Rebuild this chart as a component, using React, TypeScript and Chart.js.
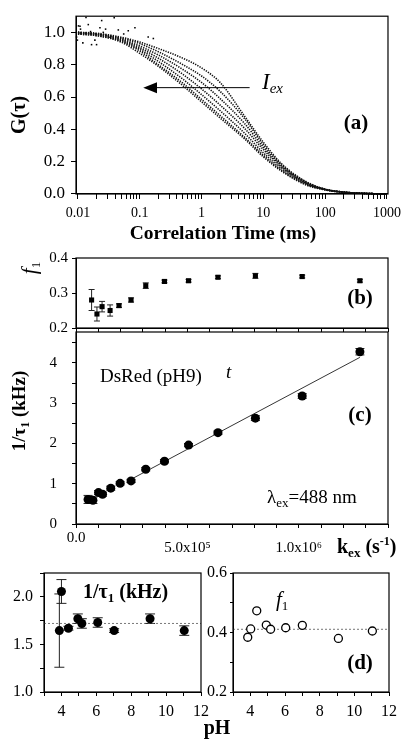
import { useEffect, useRef } from 'react';
import { Chart, registerables } from 'chart.js';

Chart.register(...registerables);

const PAGE_W = 407;
const PAGE_H = 753;
const AXIS_BOX = 40;
const SERIF = '"Liberation Serif", "DejaVu Serif", "Times New Roman", serif';

// ---------------- Panel (a): G(tau) curves ----------------
const tau = [0.01, 0.02, 0.05, 0.1, 0.2, 0.5, 1, 2, 5, 10, 20, 50, 100, 200, 500, 1000];
const gI1 = [0.99, 0.98, 0.94, 0.87, 0.79, 0.67, 0.57, 0.47, 0.34, 0.23, 0.14, 0.055, 0.025, 0.01, 0.003, 0.0];
const gI2 = [0.99, 0.98, 0.945, 0.885, 0.8, 0.685, 0.585, 0.485, 0.35, 0.24, 0.145, 0.058, 0.026, 0.01, 0.003, 0.0];
const gI3 = [0.995, 0.985, 0.95, 0.895, 0.82, 0.71, 0.615, 0.515, 0.375, 0.255, 0.155, 0.062, 0.027, 0.011, 0.003, 0.0];
const gI4 = [0.995, 0.99, 0.955, 0.905, 0.84, 0.74, 0.65, 0.55, 0.405, 0.275, 0.165, 0.066, 0.028, 0.011, 0.003, 0.0];
const gI5 = [1.0, 0.99, 0.96, 0.915, 0.86, 0.77, 0.69, 0.59, 0.435, 0.29, 0.172, 0.07, 0.029, 0.012, 0.003, 0.0];
const gI6 = [1.0, 0.99, 0.965, 0.93, 0.88, 0.8, 0.73, 0.635, 0.465, 0.305, 0.178, 0.072, 0.03, 0.012, 0.003, 0.0];
const gI7 = [1.0, 0.995, 0.97, 0.94, 0.9, 0.84, 0.78, 0.69, 0.48, 0.32, 0.185, 0.075, 0.03, 0.012, 0.003, 0.0];
const gCurves = [gI1, gI2, gI3, gI4, gI5, gI6, gI7];

const noiseTau = [0.0095, 0.0098, 0.0102, 0.0108, 0.0135, 0.0147, 0.0166, 0.0188, 0.02, 0.0227, 0.0242, 0.0257, 0.0386, 0.0652, 0.0836, 0.137, 0.166, 0.012, 0.028, 0.033, 0.045, 0.011, 0.016, 0.055];
const noiseG = [0.971, 0.952, 1.04, 1.038, 1.092, 1.048, 0.924, 0.952, 0.924, 1.029, 1.073, 1.0, 1.09, 1.01, 1.029, 0.971, 0.962, 0.935, 1.02, 0.97, 1.015, 1.02, 1.005, 0.99];

const aDecades = [0.01, 0.1, 1, 10, 100, 1000];
const aDecadeLabels = ['0.01', '0.1', '1', '10', '100', '1000'];
const aMinorMult = [2, 3, 4, 5, 6, 7, 8, 9];
const aYTicks = [0, 0.2, 0.4, 0.6, 0.8, 1.0];
const aYLabels = ['0.0', '0.2', '0.4', '0.6', '0.8', '1.0'];

// ---------------- Panel (b): f1 vs kex ----------------
const kexB = [7.0e4, 9.4e4, 1.17e5, 1.53e5, 1.93e5, 2.47e5, 3.13e5, 3.97e5, 5.05e5, 6.37e5, 8.05e5, 1.015e6, 1.274e6];
const f1B = [0.28, 0.24, 0.261, 0.25, 0.264, 0.28, 0.321, 0.333, 0.335, 0.345, 0.349, 0.347, 0.335];
const f1BErr = [0.03, 0.02, 0.015, 0.016, 0.005, 0.006, 0.008, 0.004, 0.004, 0.004, 0.007, 0.004, 0.004];
const bYTicks = [0.2, 0.3, 0.4];
const bYLabels = ['0.2', '0.3', '0.4'];

// ---------------- Panel (c): 1/tau1 vs kex ----------------
const kexC = [5.4e4, 7.6e4, 1.01e5, 1.19e5, 1.56e5, 1.98e5, 2.47e5, 3.13e5, 3.97e5, 5.05e5, 6.37e5, 8.05e5, 1.015e6, 1.274e6];
const rateC = [0.61, 0.59, 0.78, 0.74, 0.89, 1.01, 1.07, 1.36, 1.56, 1.96, 2.27, 2.63, 3.18, 4.28];
const rateCErr = [0.1, 0.08, 0.05, 0.05, 0.05, 0.04, 0.04, 0.04, 0.04, 0.04, 0.04, 0.06, 0.06, 0.08];
const fitX = [2.4e5, 1.274e6];
const fitY = [1.09, 4.14];
const kexTicks = [0, 1e5, 2e5, 3e5, 4e5, 5e5, 6e5, 7e5, 8e5, 9e5, 1e6, 1.1e6, 1.2e6, 1.3e6, 1.4e6];
const kexLabels = ['0.0', '', '', '', '', '5.0x10⁵', '', '', '', '', '1.0x10⁶', '', '', '', ''];
const cYTicks = [0, 0.5, 1, 1.5, 2, 2.5, 3, 3.5, 4, 4.5];
const cYLabels = ['0', '', '1', '', '2', '', '3', '', '4', ''];

// ---------------- Panel (d): pH dependence ----------------
const pHL = [3.88, 4.0, 4.4, 4.94, 5.17, 6.08, 7.02, 9.08, 11.04];
const rateL = [1.645, 2.056, 1.67, 1.77, 1.72, 1.73, 1.645, 1.77, 1.645];
const rateLErr = [0.385, 0.125, 0.02, 0.05, 0.05, 0.05, 0.02, 0.05, 0.05];
const rateMean = 1.72;
const pHR = [3.85, 4.02, 4.37, 4.92, 5.17, 6.04, 7.0, 9.08, 11.04];
const f1R = [0.384, 0.412, 0.473, 0.425, 0.411, 0.416, 0.424, 0.38, 0.405];
const f1Mean = 0.411;
const pHTicks = [3, 4, 5, 6, 7, 8, 9, 10, 11, 12];
const pHLabels = ['', '4', '', '6', '', '8', '', '10', '', '12'];
const dLYTicks = [1.0, 1.25, 1.5, 1.75, 2.0, 2.25];
const dLYLabels = ['1.0', '', '1.5', '', '2.0', ''];
const dRYTicks = [0.2, 0.3, 0.4, 0.5, 0.6];
const dRYLabels = ['0.2', '', '0.4', '', '0.6'];

// ---------------- helpers ----------------
type Run = { t: string; f: string; dy?: number };

function drawRuns(ctx: CanvasRenderingContext2D, runs: Run[], x: number, y: number, align: 'left' | 'center' = 'left') {
  ctx.save();
  ctx.fillStyle = '#000';
  ctx.textBaseline = 'alphabetic';
  ctx.textAlign = 'left';
  let w = 0;
  for (const r of runs) {
    ctx.font = r.f;
    w += ctx.measureText(r.t).width;
  }
  let cx = align === 'center' ? x - w / 2 : x;
  for (const r of runs) {
    ctx.font = r.f;
    ctx.fillText(r.t, cx, y + (r.dy || 0));
    cx += ctx.measureText(r.t).width;
  }
  ctx.restore();
}

function drawRunsVertical(ctx: CanvasRenderingContext2D, runs: Run[], baselineX: number, centerY: number) {
  ctx.save();
  ctx.translate(baselineX, centerY);
  ctx.rotate(-Math.PI / 2);
  drawRuns(ctx, runs, 0, 0, 'center');
  ctx.restore();
}

const B = (s: number) => `bold ${s}px ${SERIF}`;
const I = (s: number) => `italic ${s}px ${SERIF}`;
const R = (s: number) => `${s}px ${SERIF}`;

function layoutFor(L: number, T: number, Rr: number, Bb: number) {
  return { padding: { left: L - AXIS_BOX, top: T, right: PAGE_W - Rr, bottom: PAGE_H - Bb - AXIS_BOX } };
}

interface AxisSpec {
  type: 'linear' | 'logarithmic';
  min: number;
  max: number;
  ticks: number[];
  labels: (string | string[])[];
  size: number;
  lineHeight?: number;
  tickLength: number;
  padding: number;
}

function makeAxis(pos: 'left' | 'bottom', s: AxisSpec) {
  return {
    type: s.type,
    position: pos,
    min: s.min,
    max: s.max,
    afterBuildTicks: (scale: any) => {
      scale.ticks = s.ticks.map((v) => ({ value: v }));
    },
    afterFit: (scale: any) => {
      if (pos === 'left') scale.width = AXIS_BOX;
      else scale.height = AXIS_BOX;
    },
    ticks: {
      autoSkip: false,
      maxRotation: 0,
      minRotation: 0,
      padding: s.padding,
      color: '#000',
      font: { family: SERIF, size: s.size, lineHeight: s.lineHeight ?? 1.2 },
      callback: (_v: any, i: number) => (s.labels[i] !== undefined ? s.labels[i] : ''),
    },
    grid: {
      display: true,
      drawOnChartArea: false,
      drawTicks: true,
      tickLength: s.tickLength,
      tickColor: '#000',
      color: '#000',
      lineWidth: 1,
      tickWidth: 1,
    },
    border: { display: true, color: '#000', width: 1 },
  };
}

function framePlugin(id: string, draw?: (ctx: CanvasRenderingContext2D, chart: any) => void) {
  return {
    id,
    afterDraw(chart: any) {
      const { ctx, chartArea: a } = chart;
      ctx.save();
      ctx.strokeStyle = '#000';
      ctx.lineWidth = 1.2;
      ctx.strokeRect(a.left, a.top, a.right - a.left, a.bottom - a.top);
      ctx.restore();
      if (draw) draw(ctx, chart);
    },
  };
}

function errorBarPlugin(id: string, xs: number[], ys: number[], es: number[], cap: number) {
  return {
    id,
    beforeDatasetsDraw(chart: any) {
      const { ctx } = chart;
      const xS = chart.scales.x;
      const yS = chart.scales.y;
      ctx.save();
      ctx.strokeStyle = '#222';
      ctx.lineWidth = 1;
      for (let i = 0; i < xs.length; i++) {
        const px = xS.getPixelForValue(xs[i]);
        const p1 = yS.getPixelForValue(ys[i] - es[i]);
        const p2 = yS.getPixelForValue(ys[i] + es[i]);
        ctx.beginPath();
        ctx.moveTo(px, p1);
        ctx.lineTo(px, p2);
        ctx.moveTo(px - cap, p1);
        ctx.lineTo(px + cap, p1);
        ctx.moveTo(px - cap, p2);
        ctx.lineTo(px + cap, p2);
        ctx.stroke();
      }
      ctx.restore();
    },
  };
}

const common = {
  responsive: false,
  maintainAspectRatio: false,
  animation: false as const,
  devicePixelRatio: 1,
  events: [] as any[],
  plugins: { legend: { display: false }, tooltip: { enabled: false } },
};

const pts = (xs: number[], ys: number[]) => xs.map((x, i) => ({ x, y: ys[i] }));

// arrow annotation in panel (a), in data units
const ARROW = { tauFrom: 6.0, tauBase: 0.19, tauTip: 0.114, g: 0.658 };

export default function App() {
  const refA = useRef<HTMLCanvasElement>(null);
  const refB = useRef<HTMLCanvasElement>(null);
  const refC = useRef<HTMLCanvasElement>(null);
  const refD1 = useRef<HTMLCanvasElement>(null);
  const refD2 = useRef<HTMLCanvasElement>(null);

  useEffect(() => {
    const charts: Chart[] = [];

    // ---- (a) ----
    const aTickVals: number[] = [];
    const aTickLabs: string[] = [];
    aDecades.forEach((d, k) => {
      aTickVals.push(d);
      aTickLabs.push(aDecadeLabels[k]);
      if (k < aDecades.length - 1) {
        aMinorMult.forEach((m) => {
          aTickVals.push(d * m);
          aTickLabs.push('');
        });
      }
    });

    const curveSets = gCurves.map((g) => ({
      data: pts(tau, g),
      showLine: true,
      borderColor: '#111',
      borderWidth: 1.6,
      borderDash: [1.3, 1.2],
      pointRadius: 0,
      cubicInterpolationMode: 'monotone',
      clip: false,
    }));

    charts.push(
      new Chart(refA.current!, {
        type: 'scatter',
        data: {
          datasets: [
            {
              data: pts(noiseTau, noiseG),
              pointStyle: 'rect',
              pointRadius: 1.1,
              backgroundColor: '#000',
              borderWidth: 0,
              clip: false,
            } as any,
            ...(curveSets as any[]),
          ],
        },
        options: {
          ...common,
          layout: layoutFor(76, 3, 388, 194),
          scales: {
            x: makeAxis('bottom', { type: 'logarithmic', min: 0.0093, max: 1040, ticks: aTickVals, labels: aTickLabs, size: 14, tickLength: 5, padding: 6 }),
            y: makeAxis('left', { type: 'linear', min: 0, max: 1.1, ticks: aYTicks, labels: aYLabels, size: 17, tickLength: 5, padding: 6 }),
          },
        } as any,
        plugins: [
          framePlugin('frameA', (ctx, chart) => {
            const xS = chart.scales.x;
            const yS = chart.scales.y;
            const yA = yS.getPixelForValue(ARROW.g);
            const x1 = xS.getPixelForValue(ARROW.tauFrom);
            const xb = xS.getPixelForValue(ARROW.tauBase);
            const xt = xS.getPixelForValue(ARROW.tauTip);
            ctx.save();
            ctx.strokeStyle = '#000';
            ctx.fillStyle = '#000';
            ctx.lineWidth = 1;
            ctx.beginPath();
            ctx.moveTo(x1, yA);
            ctx.lineTo(xb, yA);
            ctx.stroke();
            ctx.beginPath();
            ctx.moveTo(xt, yA);
            ctx.lineTo(xb, yA - 5.5);
            ctx.lineTo(xb, yA + 5.5);
            ctx.closePath();
            ctx.fill();
            ctx.restore();
            drawRuns(ctx, [{ t: 'I', f: I(23) }, { t: 'ex', f: I(15), dy: 4 }], 262, 89);
            drawRuns(ctx, [{ t: '(a)', f: B(21) }], 356, 129, 'center');
            drawRunsVertical(ctx, [{ t: 'G(τ)', f: B(20) }], 25, 115);
            drawRuns(ctx, [{ t: 'Correlation Time (ms)', f: B(19.5) }], 223, 239, 'center');
          }),
        ],
      })
    );

    // ---- (b) ----
    charts.push(
      new Chart(refB.current!, {
        type: 'scatter',
        data: {
          datasets: [
            {
              data: pts(kexB, f1B),
              pointStyle: 'rect',
              pointRadius: 3.6,
              backgroundColor: '#000',
              borderColor: '#000',
              borderWidth: 0,
              clip: false,
            } as any,
          ],
        },
        options: {
          ...common,
          layout: layoutFor(76, 258, 388, 328),
          scales: {
            x: makeAxis('bottom', { type: 'linear', min: 0, max: 1.4e6, ticks: kexTicks, labels: kexTicks.map(() => ''), size: 15, tickLength: 4, padding: 2 }),
            y: makeAxis('left', { type: 'linear', min: 0.2, max: 0.4, ticks: bYTicks, labels: bYLabels, size: 15, tickLength: 4, padding: 4 }),
          },
        } as any,
        plugins: [
          errorBarPlugin('ebB', kexB, f1B, f1BErr, 3),
          framePlugin('frameB', (ctx) => {
            drawRuns(ctx, [{ t: '(b)', f: B(21) }], 360, 304, 'center');
            drawRunsVertical(ctx, [{ t: 'f', f: I(21) }, { t: '1', f: R(13), dy: 4 }], 36, 268);
          }),
        ],
      })
    );

    // ---- (c) ----
    charts.push(
      new Chart(refC.current!, {
        type: 'scatter',
        data: {
          datasets: [
            {
              data: pts(kexC, rateC),
              pointStyle: 'circle',
              pointRadius: 4.5,
              backgroundColor: '#000',
              borderColor: '#000',
              borderWidth: 0,
              clip: false,
            } as any,
            {
              data: pts(fitX, fitY),
              showLine: true,
              borderColor: '#000',
              borderWidth: 0.8,
              pointRadius: 0,
              clip: false,
            } as any,
          ],
        },
        options: {
          ...common,
          layout: layoutFor(76, 332, 388, 524),
          scales: {
            x: makeAxis('bottom', {
              type: 'linear',
              min: 0,
              max: 1.4e6,
              ticks: kexTicks,
              labels: kexLabels.map((l) => (l.indexOf('x10') >= 0 ? ['', l] : l)),
              size: 15,
              lineHeight: 0.68,
              tickLength: 4,
              padding: 5,
            }),
            y: makeAxis('left', { type: 'linear', min: 0, max: 4.77, ticks: cYTicks, labels: cYLabels, size: 15, tickLength: 4, padding: 15 }),
          },
        } as any,
        plugins: [
          errorBarPlugin('ebC', kexC, rateC, rateCErr, 4.5),
          framePlugin('frameC', (ctx) => {
            drawRuns(ctx, [{ t: 'DsRed (pH9)', f: R(19) }], 100, 382);
            drawRuns(ctx, [{ t: 't', f: I(19) }], 226, 378);
            drawRuns(ctx, [{ t: '(c)', f: B(21) }], 360, 421, 'center');
            drawRuns(ctx, [{ t: 'λ', f: R(19) }, { t: 'ex', f: R(13), dy: 4 }, { t: '=488 nm', f: R(19) }], 267, 503);
            drawRunsVertical(ctx, [{ t: '1/τ', f: B(19) }, { t: '1', f: B(12), dy: 4 }, { t: ' (kHz)', f: B(19) }], 25, 411);
            drawRuns(ctx, [{ t: 'k', f: B(20) }, { t: 'ex', f: B(13), dy: 4 }, { t: ' (s', f: B(20) }, { t: '-1', f: B(12), dy: -8 }, { t: ')', f: B(20) }], 337, 553);
          }),
        ],
      })
    );

    // ---- (d) left ----
    charts.push(
      new Chart(refD1.current!, {
        type: 'scatter',
        data: {
          datasets: [
            {
              data: pts(pHL, rateL),
              pointStyle: 'circle',
              pointRadius: 4.5,
              backgroundColor: '#000',
              borderColor: '#000',
              borderWidth: 0,
              clip: false,
            } as any,
            {
              data: pts([3, 12], [rateMean, rateMean]),
              showLine: true,
              borderColor: '#555',
              borderWidth: 0.8,
              borderDash: [2, 2],
              pointRadius: 0,
            } as any,
          ],
        },
        options: {
          ...common,
          layout: layoutFor(44, 573, 201, 692),
          scales: {
            x: makeAxis('bottom', { type: 'linear', min: 3, max: 12, ticks: pHTicks, labels: pHLabels, size: 16, tickLength: 4, padding: 6 }),
            y: makeAxis('left', { type: 'linear', min: 1.0, max: 2.25, ticks: dLYTicks, labels: dLYLabels, size: 16, tickLength: 4, padding: 7 }),
          },
        } as any,
        plugins: [
          errorBarPlugin('ebD1', pHL, rateL, rateLErr, 5),
          framePlugin('frameD1', (ctx) => {
            drawRuns(ctx, [{ t: '1/τ', f: B(20) }, { t: '1', f: B(13), dy: 4 }, { t: ' (kHz)', f: B(20) }], 83, 598);
          }),
        ],
      })
    );

    // ---- (d) right ----
    charts.push(
      new Chart(refD2.current!, {
        type: 'scatter',
        data: {
          datasets: [
            {
              data: pts(pHR, f1R),
              pointStyle: 'circle',
              pointRadius: 4,
              backgroundColor: '#fff',
              borderColor: '#000',
              borderWidth: 1.3,
              clip: false,
            } as any,
            {
              data: pts([3, 12], [f1Mean, f1Mean]),
              showLine: true,
              borderColor: '#555',
              borderWidth: 0.8,
              borderDash: [2, 2],
              pointRadius: 0,
            } as any,
          ],
        },
        options: {
          ...common,
          layout: layoutFor(233, 573, 389, 692),
          scales: {
            x: makeAxis('bottom', { type: 'linear', min: 3, max: 12, ticks: pHTicks, labels: pHLabels, size: 16, tickLength: 4, padding: 6 }),
            y: makeAxis('left', { type: 'linear', min: 0.2, max: 0.6, ticks: dRYTicks, labels: dRYLabels, size: 16, tickLength: 3, padding: 3 }),
          },
        } as any,
        plugins: [
          framePlugin('frameD2', (ctx) => {
            drawRuns(ctx, [{ t: 'f', f: I(21) }, { t: '1', f: R(13), dy: 4 }], 276, 606);
            drawRuns(ctx, [{ t: '(d)', f: B(21) }], 360, 669, 'center');
            drawRuns(ctx, [{ t: 'pH', f: B(20) }], 217, 734, 'center');
          }),
        ],
      })
    );

    return () => {
      charts.forEach((c) => c.destroy());
    };
  }, []);

  const cs: any = { position: 'absolute', left: 0, top: 0, width: PAGE_W, height: PAGE_H };
  return (
    <div style={{ position: 'fixed', left: 0, top: 0, width: PAGE_W, height: PAGE_H, background: '#fff' }}>
      <canvas ref={refA} width={PAGE_W} height={PAGE_H} style={cs} />
      <canvas ref={refB} width={PAGE_W} height={PAGE_H} style={cs} />
      <canvas ref={refC} width={PAGE_W} height={PAGE_H} style={cs} />
      <canvas ref={refD1} width={PAGE_W} height={PAGE_H} style={cs} />
      <canvas ref={refD2} width={PAGE_W} height={PAGE_H} style={cs} />
    </div>
  );
}
